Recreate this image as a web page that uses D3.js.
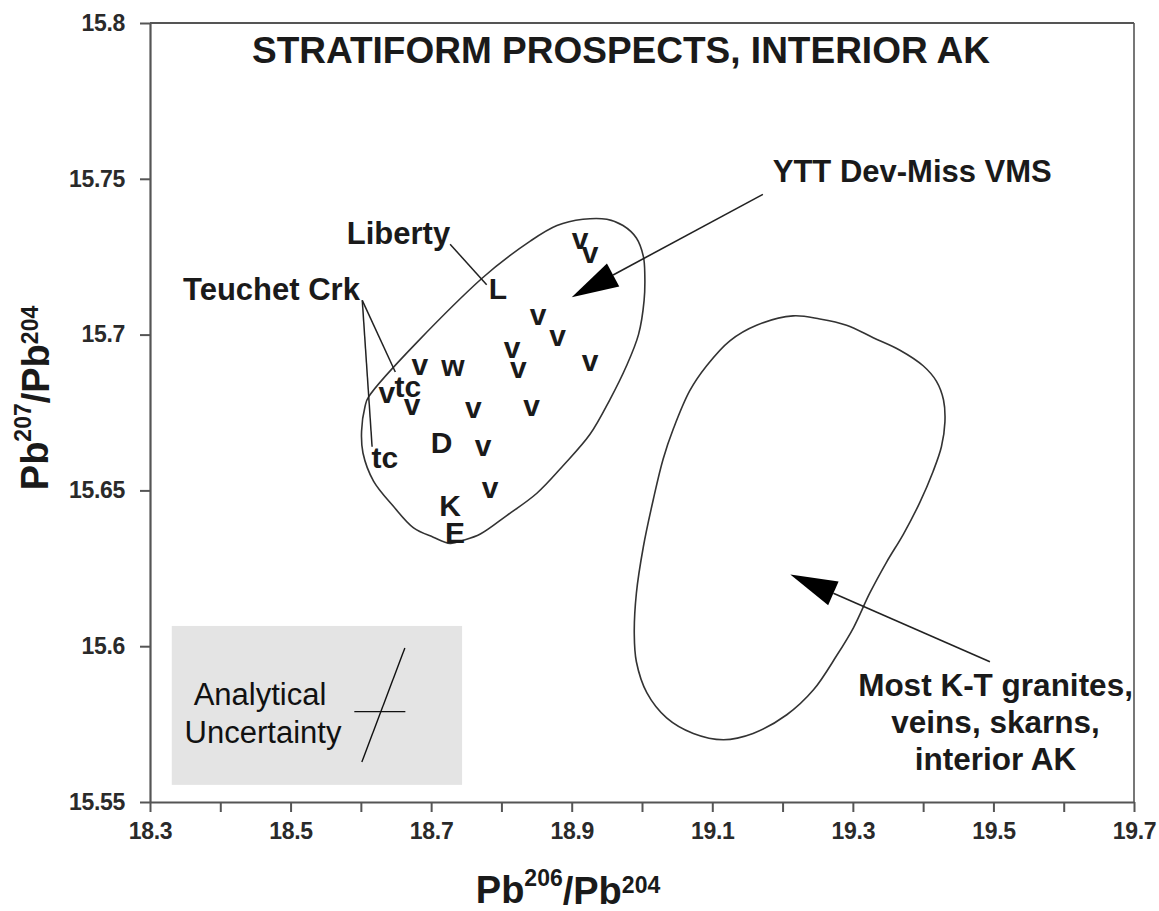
<!DOCTYPE html>
<html>
<head>
<meta charset="utf-8">
<script src="https://cdn.jsdelivr.net/npm/d3@7"></script>
<style>
  body { margin: 0; background: #fff; }
  svg { display: block; }
  text { font-family: "Liberation Sans", Arial, Helvetica, sans-serif; }
</style>
</head>
<body>
<svg id="chart" width="1159" height="911"></svg>
<script>
// axis ticks
const xTicks = [18.3, 18.4, 18.5, 18.6, 18.7, 18.8, 18.9, 19.0, 19.1, 19.2, 19.3, 19.4, 19.5, 19.6, 19.7];
const xTickLabels = ["18.3", "", "18.5", "", "18.7", "", "18.9", "", "19.1", "", "19.3", "", "19.5", "", "19.7"];
const yTicks = [15.55, 15.6, 15.65, 15.7, 15.75, 15.8];
const yTickLabels = ["15.55", "15.6", "15.65", "15.7", "15.75", "15.8"];

// sample symbols (v = YTT VMS, tc = Teuchet Crk, L = Liberty ...)
const markerLabels = ["v", "v", "L", "v", "v", "v", "v", "v", "v", "w", "v", "tc", "v", "v", "v", "D", "v", "tc", "v", "K", "E"];
const markerX = [18.912, 18.926, 18.795, 18.852, 18.880, 18.815, 18.824, 18.926, 18.684, 18.731, 18.637, 18.667, 18.673, 18.760, 18.843, 18.715, 18.774, 18.634, 18.784, 18.727, 18.734];
const markerY = [15.7300, 15.7255, 15.7150, 15.7057, 15.6990, 15.6950, 15.6886, 15.6909, 15.6896, 15.6893, 15.6806, 15.6829, 15.6768, 15.6758, 15.6764, 15.6655, 15.6636, 15.6604, 15.6501, 15.6453, 15.6367];

// YTT Dev-Miss VMS field outline
const vmsFieldX = [18.611, 18.772, 18.841, 18.879, 18.916, 18.950, 18.973, 18.992, 19.002, 19.004, 19.003, 18.995, 18.978, 18.954, 18.926, 18.888, 18.850, 18.808, 18.770, 18.746, 18.727, 18.703, 18.675, 18.646, 18.618, 18.603, 18.601, 18.606];
const vmsFieldY = [15.680, 15.718, 15.730, 15.735, 15.737, 15.737, 15.735, 15.731, 15.725, 15.719, 15.711, 15.700, 15.690, 15.679, 15.668, 15.658, 15.649, 15.642, 15.636, 15.634, 15.633, 15.635, 15.638, 15.645, 15.653, 15.662, 15.669, 15.677];

// K-T granite field outline
const ktFieldX = [19.215, 19.253, 19.291, 19.329, 19.367, 19.400, 19.419, 19.429, 19.431, 19.426, 19.414, 19.395, 19.372, 19.348, 19.324, 19.301, 19.277, 19.244, 19.206, 19.158, 19.116, 19.073, 19.035, 19.007, 18.992, 18.989, 18.992, 19.002, 19.016, 19.030, 19.045, 19.068, 19.092, 19.125, 19.163];
const ktFieldY = [15.706, 15.705, 15.703, 15.699, 15.695, 15.690, 15.685, 15.679, 15.672, 15.664, 15.656, 15.646, 15.636, 15.627, 15.617, 15.606, 15.597, 15.586, 15.578, 15.572, 15.570, 15.572, 15.577, 15.585, 15.595, 15.604, 15.617, 15.632, 15.647, 15.660, 15.670, 15.682, 15.690, 15.698, 15.703];

// arrows: [tail, tip]
const ytArrow = [[19.172, 15.745], [18.900, 15.712]];
const ktArrow = [[19.495, 15.595], [19.211, 15.623]];

// leader lines
const leaderLines = [
  [[18.727, 15.729], [18.779, 15.716]],
  [[18.602, 15.711], [18.649, 15.688]],
  [[18.602, 15.711], [18.616, 15.664]],
];

// labels
const labelTexts = ["Liberty", "Teuchet Crk", "YTT Dev-Miss VMS"];
const labelX = [18.580, 18.347, 19.186];
const labelY = [15.729, 15.711, 15.749];
const ktLines = ["Most K-T granites,", "veins, skarns,", "interior AK"];
const ktLabelPos = [19.503, 15.584];

// analytical uncertainty box and cross
const uncBoxX = [18.331, 18.744];
const uncBoxY = [15.5555, 15.6065];
const uncBarCenter = [18.627, 15.579];
const uncBarHalf = 0.0363;
const uncDiagCenter = [18.632, 15.5811];
const uncDiagHalf = [0.0306, 0.0183];
const uncText = ["Analytical", "Uncertainty"];

const svg = d3.select("#chart");
const W = 1159, H = 911;
const plot = { left: 150, right: 1134, top: 23, bottom: 802 };

svg.append("rect").attr("width", W).attr("height", H).attr("fill", "#fff");

const x = d3.scaleLinear().domain([18.3, 19.7]).range([plot.left, plot.right]);
const y = d3.scaleLinear().domain([15.55, 15.8]).range([plot.bottom, plot.top]);

// uncertainty box
svg.append("rect")
  .attr("x", x(uncBoxX[0]))
  .attr("y", y(uncBoxY[1]))
  .attr("width", x(uncBoxX[1]) - x(uncBoxX[0]))
  .attr("height", y(uncBoxY[0]) - y(uncBoxY[1]))
  .attr("fill", "#e4e4e4");

svg.append("line")
  .attr("x1", x(uncBarCenter[0] - uncBarHalf)).attr("x2", x(uncBarCenter[0] + uncBarHalf))
  .attr("y1", y(uncBarCenter[1])).attr("y2", y(uncBarCenter[1]))
  .attr("stroke", "#111").attr("stroke-width", 1.4);
svg.append("line")
  .attr("x1", x(uncDiagCenter[0] - uncDiagHalf[0])).attr("y1", y(uncDiagCenter[1] - uncDiagHalf[1]))
  .attr("x2", x(uncDiagCenter[0] + uncDiagHalf[0])).attr("y2", y(uncDiagCenter[1] + uncDiagHalf[1]))
  .attr("stroke", "#111").attr("stroke-width", 1.4);

svg.append("g")
  .selectAll("text")
  .data(uncText)
  .join("text")
  .attr("x", (d, i) => (i === 0 ? 260 : 263))
  .attr("y", (d, i) => 705 + i * 38)
  .attr("text-anchor", "middle")
  .attr("font-size", 31)
  .attr("fill", "#111")
  .text((d) => d);

// axes
const xAxis = d3.axisBottom(x)
  .tickValues(xTicks)
  .tickFormat((d, i) => xTickLabels[i])
  .tickSize(10)
  .tickSizeOuter(0)
  .tickPadding(11);

const yAxis = d3.axisLeft(y)
  .tickValues(yTicks)
  .tickFormat((d, i) => yTickLabels[i])
  .tickSize(10)
  .tickSizeOuter(0)
  .tickPadding(15);

const gx = svg.append("g").attr("transform", `translate(0,${plot.bottom})`).call(xAxis);
const gy = svg.append("g").attr("transform", `translate(${plot.left},0)`).call(yAxis);

[gx, gy].forEach((g) => {
  g.select(".domain").attr("stroke", "#555").attr("stroke-width", 2.2);
  g.selectAll(".tick line").attr("stroke", "#555").attr("stroke-width", 2);
  g.selectAll(".tick text")
    .attr("font-family", "'Liberation Sans', Arial, sans-serif")
    .attr("font-size", 23)
    .attr("font-weight", "bold")
    .attr("fill", "#2a2a2a")
    .attr("letter-spacing", -0.3);
});

// top and right frame
svg.append("line")
  .attr("x1", plot.left).attr("x2", plot.right).attr("y1", plot.top).attr("y2", plot.top)
  .attr("stroke", "#555").attr("stroke-width", 2);
svg.append("line")
  .attr("x1", plot.right).attr("x2", plot.right).attr("y1", plot.top).attr("y2", plot.bottom)
  .attr("stroke", "#555").attr("stroke-width", 1.6);

// field outlines
const field = d3.line()
  .x((d) => x(d[0]))
  .y((d) => y(d[1]))
  .curve(d3.curveCatmullRomClosed.alpha(0.5));

svg.append("path")
  .attr("d", field(vmsFieldX.map((v, i) => [v, vmsFieldY[i]])))
  .attr("fill", "none").attr("stroke", "#333").attr("stroke-width", 1.6);
svg.append("path")
  .attr("d", field(ktFieldX.map((v, i) => [v, ktFieldY[i]])))
  .attr("fill", "none").attr("stroke", "#333").attr("stroke-width", 1.6);

// leader lines
svg.append("g")
  .selectAll("line")
  .data(leaderLines)
  .join("line")
  .attr("x1", (d) => x(d[0][0])).attr("y1", (d) => y(d[0][1]))
  .attr("x2", (d) => x(d[1][0])).attr("y2", (d) => y(d[1][1]))
  .attr("stroke", "#222").attr("stroke-width", 1.5);

// arrows
function drawArrow(arrow) {
  const tail = [x(arrow[0][0]), y(arrow[0][1])];
  const tip = [x(arrow[1][0]), y(arrow[1][1])];
  const dx = tail[0] - tip[0];
  const dy = tail[1] - tip[1];
  const len = Math.hypot(dx, dy);
  const ux = dx / len, uy = dy / len;
  const headLen = 47, half = 13;
  const bx = tip[0] + ux * headLen, by = tip[1] + uy * headLen;
  svg.append("line")
    .attr("x1", tail[0]).attr("y1", tail[1])
    .attr("x2", bx).attr("y2", by)
    .attr("stroke", "#222").attr("stroke-width", 1.6);
  svg.append("path")
    .attr("d", `M${tip[0]},${tip[1]}L${bx - uy * half},${by + ux * half}L${bx + uy * half},${by - ux * half}Z`)
    .attr("fill", "#000");
}
drawArrow(ytArrow);
drawArrow(ktArrow);

// sample symbols
svg.append("g")
  .selectAll("text")
  .data(markerLabels)
  .join("text")
  .attr("x", (d, i) => x(markerX[i]))
  .attr("y", (d, i) => y(markerY[i]))
  .attr("dy", (d) => (d === d.toUpperCase() ? "0.36em" : d === "tc" ? "0.32em" : "0.26em"))
  .attr("text-anchor", "middle")
  .attr("font-size", 30)
  .attr("font-weight", "bold")
  .attr("fill", "#1a1a1a")
  .text((d) => d);

// labels
svg.append("g")
  .selectAll("text")
  .data(labelTexts)
  .join("text")
  .attr("x", (d, i) => x(labelX[i]))
  .attr("y", (d, i) => y(labelY[i]))
  .attr("font-size", 31)
  .attr("font-weight", "bold")
  .attr("fill", "#1a1a1a")
  .text((d) => d);

svg.append("g")
  .selectAll("text")
  .data(ktLines)
  .join("text")
  .attr("x", x(ktLabelPos[0]))
  .attr("y", (d, i) => y(ktLabelPos[1]) + i * 37)
  .attr("text-anchor", "middle")
  .attr("font-size", 31.5)
  .attr("font-weight", "bold")
  .attr("fill", "#1a1a1a")
  .text((d) => d);

// title
svg.append("text")
  .attr("x", 621).attr("y", 63)
  .attr("text-anchor", "middle")
  .attr("font-size", 37)
  .attr("font-weight", "bold")
  .attr("fill", "#1a1a1a")
  .text("STRATIFORM PROSPECTS, INTERIOR AK");

// axis titles with superscripts
function ratioLabel(sel, upper) {
  sel.append("tspan").text("Pb");
  sel.append("tspan").attr("font-size", 23).attr("dy", "-0.75em").text(upper);
  sel.append("tspan").attr("dy", "0.47em").text("/Pb");
  sel.append("tspan").attr("font-size", 23).attr("dy", "-0.47em").text("204");
}

const xt = svg.append("text")
  .attr("x", 568).attr("y", 903)
  .attr("text-anchor", "middle")
  .attr("font-size", 38)
  .attr("font-weight", "bold")
  .attr("fill", "#1a1a1a");
ratioLabel(xt, "206");

const yt = svg.append("text")
  .attr("transform", "translate(48,398) rotate(-90)")
  .attr("text-anchor", "middle")
  .attr("font-size", 38)
  .attr("font-weight", "bold")
  .attr("fill", "#1a1a1a");
ratioLabel(yt, "207");
</script>
</body>
</html>
